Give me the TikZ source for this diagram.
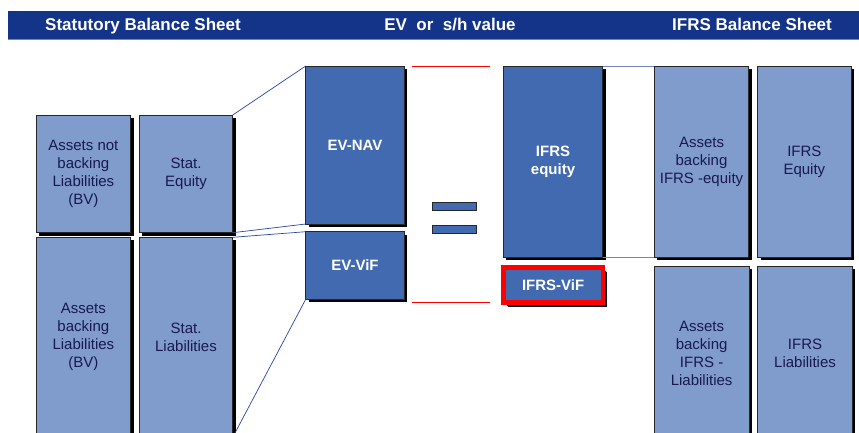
\documentclass[tikz,border=0pt]{standalone}
\usepackage{fontspec}
\setmainfont{Liberation Sans}
\usetikzlibrary{shadows}
\definecolor{hdr}{RGB}{20,52,137}
\definecolor{darkb}{RGB}{66,106,177}
\definecolor{lightb}{RGB}{128,156,204}
\definecolor{navytxt}{RGB}{25,25,80}
\definecolor{conn}{RGB}{40,70,160}
\definecolor{conn2}{RGB}{110,135,185}
\begin{document}
\begin{tikzpicture}[x=1pt,y=-1pt,
  box/.style={rectangle, draw=black!85, line width=0.8pt, outer sep=0pt, inner sep=2pt,
    anchor=north west, align=center,
    drop shadow={shadow xshift=3pt, shadow yshift=-3pt, fill=black, opacity=1}},
  lightbox/.style={box, fill=lightb, text=navytxt, font=\fontsize{15}{18}\selectfont},
  darkbox/.style={box, fill=darkb, text=white, font=\fontsize{15}{18}\selectfont\bfseries},
  hdrtext/.style={text=white, font=\fontsize{17}{20}\selectfont\bfseries, anchor=base, inner sep=0pt},
  eqbar/.style={rectangle, draw=black!85, line width=0.8pt, fill=darkb, outer sep=0pt, inner sep=0pt,
    anchor=north west, minimum width=43.3pt, minimum height=8pt},
  link/.style={draw=conn, line width=0.7pt},
  link2/.style={draw=conn2, line width=0.9pt},
  redline/.style={draw=red, line width=0.7pt}
]
\clip (0,0) rectangle (859,432);
\fill[white] (0,0) rectangle (859,432);
% header
\fill[hdr] (8,11) rectangle (859,39);
\draw[conn2, line width=0.8pt] (8,39.5) -- (859,39.5);
\node[hdrtext] (h1) at (143,30) {Statutory Balance Sheet};
\node[hdrtext] (h2) at (450,30) {EV~~or~~s/h value};
\node[hdrtext] (h3) at (752,30) {IFRS Balance Sheet};

% statutory balance sheet
\node[lightbox, minimum width=94.7pt, minimum height=117.7pt] (A1) at (36,115) {Assets not\\backing\\Liabilities\\(BV)};
\node[lightbox, minimum width=93.4pt, minimum height=117.7pt] (A2) at (139.3,115) {Stat.\\Equity};
\node[lightbox, minimum width=94.7pt, minimum height=200pt] (A3) at (36,237.3) {Assets\\backing\\Liabilities\\(BV)};
\node[lightbox, minimum width=93.4pt, minimum height=200pt] (A4) at (139.3,237.3) {Stat.\\Liabilities};

% EV
\node[darkbox, minimum width=98.6pt, minimum height=158pt] (evnav) at (305.7,66) {EV-NAV};
\node[darkbox, minimum width=98.6pt, minimum height=67.6pt] (evvif) at (305.7,231.7) {EV-ViF};

\draw[link] (A2.north east) -- (evnav.north west);
\draw[link] (A2.south east) -- (evnav.south west);
\draw[link] (A4.north east) -- (evvif.north west);
\draw[link] (A4.south east) -- (evvif.south west);

% equals
\node[eqbar] (eq1) at (432.7,202.7) {};
\node[eqbar] (eq2) at (432.7,225.3) {};

% red lines
\coordinate (r1a) at (411.7,66.7);
\coordinate (r1b) at (490,66.7);
\coordinate (r2a) at (411.7,302.7);
\coordinate (r2b) at (490,302.7);
\draw[redline] (r1a) -- (r1b);
\draw[redline] (r2a) -- (r2b);

% IFRS equity
\node[darkbox, minimum width=99.4pt, minimum height=191.3pt] (ifrseq) at (503.3,66) {IFRS\\equity};
\node[darkbox, draw=red, line width=4.5pt, minimum width=99.3pt, minimum height=35pt,
  drop shadow={shadow xshift=4.5pt, shadow yshift=-4.5pt, fill=black, opacity=1}] (ifrsvif) at (503.5,267.5) {IFRS-ViF};

% IFRS balance sheet
\node[lightbox, minimum width=94.4pt, minimum height=191.3pt] (B1) at (654.3,66) {Assets\\backing\\IFRS -equity};
\node[lightbox, minimum width=93.3pt, minimum height=191.3pt] (B2) at (757.7,66) {IFRS\\Equity};
\node[lightbox, minimum width=94.7pt, minimum height=175pt] (B3) at (654.3,266) {Assets\\backing\\IFRS -\\Liabilities};
\node[lightbox, minimum width=94.6pt, minimum height=175pt] (B4) at (757.7,266) {IFRS\\Liabilities};

\draw[link2] (ifrseq.north east) -- (B1.north west);
\draw[link2] (ifrseq.south east) -- (B1.south west);
\end{tikzpicture}
\end{document}
